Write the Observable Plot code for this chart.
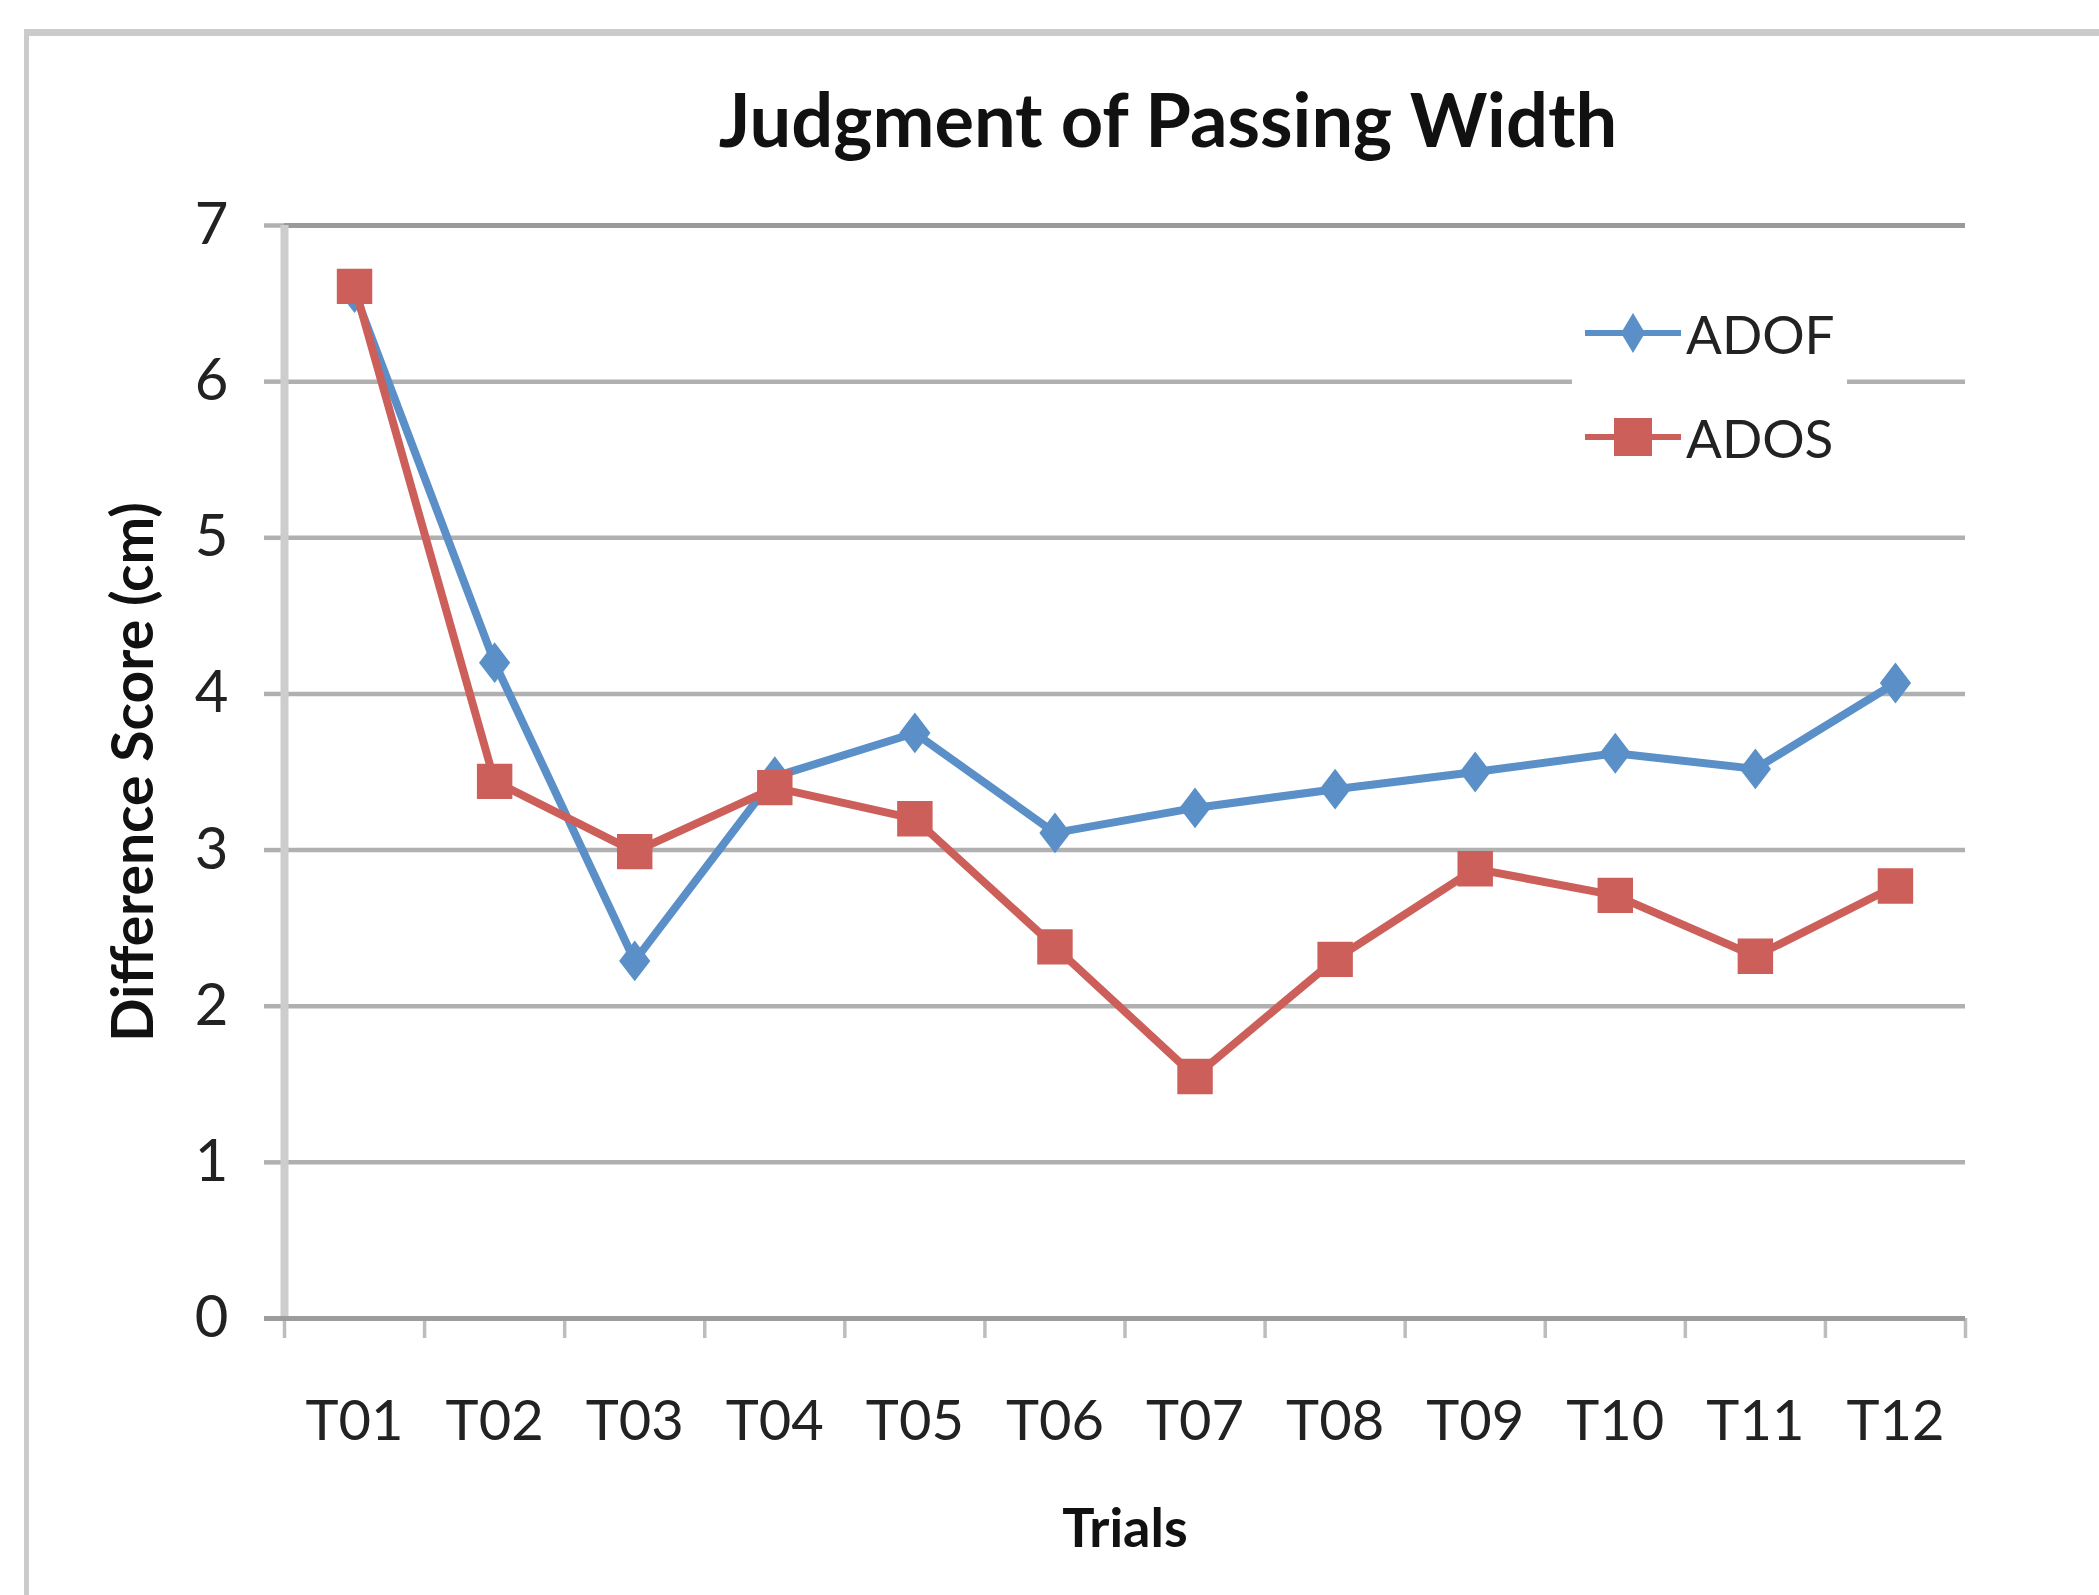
<!DOCTYPE html>
<html>
<head>
<meta charset="utf-8">
<script src="https://cdn.jsdelivr.net/npm/d3@7"></script>
<script src="https://cdn.jsdelivr.net/npm/@observablehq/plot@0.6"></script>
<style>
  html, body { margin: 0; padding: 0; background: #fff; }
  #wrap { position: relative; width: 2099px; height: 1595px; overflow: hidden; background: #fff; }
  #border { position: absolute; left: 24px; top: 29px; width: 2300px; height: 1800px;
            border-top: 7px solid #cbcbcb; border-left: 5px solid #cbcbcb; }
  #chart { position: absolute; left: 0; top: 0; }
  #legend { position: absolute; left: 1572px; top: 292px; width: 275px; height: 185px; background: #fff; }
  .lrow { position: absolute; left: 0; height: 60px; display: flex; align-items: center;
          font-family: Lato, sans-serif; font-size: 53px; color: #222; }
  .lrow svg { margin-left: 13px; margin-right: 5px; }
</style>
</head>
<body>
<div id="wrap">
  <div id="border"></div>
  <div id="chart"></div>
  <div id="legend"></div>
</div>
<script>
// ---- data ----
const trials = ["T01","T02","T03","T04","T05","T06","T07","T08","T09","T10","T11","T12"];
const adof = [6.57, 4.20, 2.29, 3.47, 3.75, 3.11, 3.27, 3.39, 3.50, 3.62, 3.52, 4.07];
const ados = [6.61, 3.44, 2.99, 3.40, 3.20, 2.38, 1.55, 2.30, 2.88, 2.71, 2.32, 2.77];
const seriesNames = ["ADOF", "ADOS"];
const seriesColors = ["#5a8fc8", "#cd5f5a"];
const yTicks = [0, 1, 2, 3, 4, 5, 6, 7];
const title = "Judgment of Passing Width";
const xLabel = "Trials";
const yLabel = "Difference Score (cm)";

const adofRows = trials.map((t, i) => ({trial: t, pos: i + 0.5, series: "ADOF", value: adof[i]}));
const adosRows = trials.map((t, i) => ({trial: t, pos: i + 0.5, series: "ADOS", value: ados[i]}));

// Excel-like diamond marker (slightly taller than wide)
const excelDiamond = {
  draw(context, size) {
    const r = Math.sqrt(size / Math.PI);
    const h = r * 1.7, w = r * 1.3;
    context.moveTo(0, -h);
    context.lineTo(w, 0);
    context.lineTo(0, h);
    context.lineTo(-w, 0);
    context.closePath();
  }
};

const chart = Plot.plot({
  width: 2099,
  height: 1595,
  marginLeft: 284,
  marginRight: 134,
  marginTop: 225,
  marginBottom: 277,
  style: {fontFamily: "Lato, sans-serif", background: "transparent", color: "#222", overflow: "visible"},
  x: {domain: [0, trials.length], label: null},
  y: {domain: [0, 7], label: null},
  color: {domain: seriesNames, range: seriesColors},
  marks: [
    Plot.gridY({ticks: yTicks.filter(d => d > 0 && d < 7), stroke: "#b0b0b0", strokeOpacity: 1, strokeWidth: 4.5}),
    Plot.axisY({ticks: yTicks, tickSize: 20, tickPadding: 36, tickFormat: d3.format("d"), fontSize: 58, stroke: "#b0b0b0", strokeWidth: 4.5, fill: "#222", label: null}),
    Plot.ruleY([7], {stroke: "#9a9a9a", strokeWidth: 5}),
    Plot.ruleX([0], {stroke: "#cdcdcd", strokeWidth: 8}),
    Plot.axisX({ticks: d3.range(trials.length + 1), tickSize: 20, tickFormat: () => "", stroke: "#bdbdbd", strokeWidth: 3.5, label: null}),
    Plot.ruleY([0], {stroke: "#9c9c9c", strokeWidth: 5, insetLeft: -20}),
    Plot.axisX({ticks: trials.map((t, i) => i + 0.5), tickSize: 0, tickPadding: 82, tickFormat: d => trials[Math.floor(d)], fontSize: 56, fill: "#222", label: null}),
    Plot.line(adofRows, {x: "pos", y: "value", stroke: "series", strokeWidth: 8}),
    Plot.dot(adofRows, {x: "pos", y: "value", fill: "series", symbol: () => excelDiamond, r: 12}),
    Plot.line(adosRows, {x: "pos", y: "value", stroke: "series", strokeWidth: 8}),
    Plot.dot(adosRows, {x: "pos", y: "value", fill: "series", symbol: () => "square", r: 20}),
    Plot.text([title], {frameAnchor: "top", dx: 43, dy: -102, lineAnchor: "middle", fontSize: 74, fontWeight: "bold", fill: "#111"}),
    Plot.text([xLabel], {frameAnchor: "bottom", dy: 211, lineAnchor: "middle", fontSize: 54, fontWeight: "bold", fill: "#111"}),
    Plot.text([yLabel], {frameAnchor: "left", dx: -150, rotate: -90, textAnchor: "middle", lineAnchor: "middle", fontSize: 57, fontWeight: "bold", fill: "#111"})
  ]
});
document.getElementById("chart").appendChild(chart);

// ---- legend ----
const legend = document.getElementById("legend");
const rowCenters = [333 - 292, 437 - 292];
seriesNames.forEach((name, i) => {
  const row = document.createElement("div");
  row.className = "lrow";
  row.style.top = (rowCenters[i] - 30) + "px";
  const sw = d3.create("svg").attr("width", 96).attr("height", 48);
  sw.append("line").attr("x1", 0).attr("x2", 96).attr("y1", 24).attr("y2", 24)
    .attr("stroke", seriesColors[i]).attr("stroke-width", 6);
  if (i === 0) {
    sw.append("path").attr("d", "M48,4L60,24L48,44L36,24Z").attr("fill", seriesColors[i]);
  } else {
    sw.append("rect").attr("x", 29).attr("y", 5).attr("width", 38).attr("height", 38).attr("fill", seriesColors[i]);
  }
  row.appendChild(sw.node());
  const label = document.createElement("span");
  label.textContent = name;
  row.appendChild(label);
  legend.appendChild(row);
});
</script>
</body>
</html>
